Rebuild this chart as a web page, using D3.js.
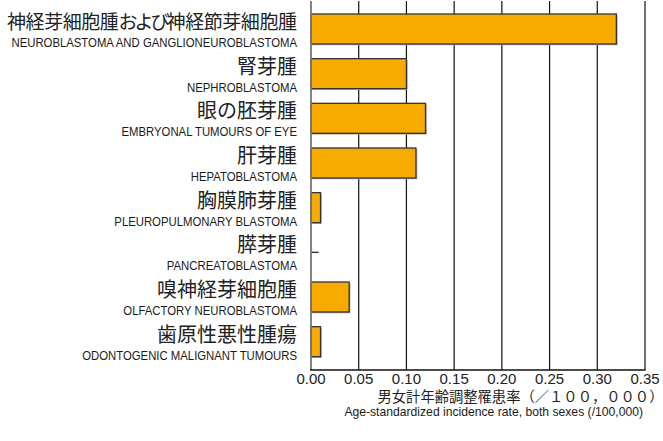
<!DOCTYPE html>
<html><head><meta charset="utf-8">
<script src="https://cdn.jsdelivr.net/npm/d3@7"></script>
<style>
html,body{margin:0;padding:0;background:#fff;}
.jp{font-family:"Noto Sans CJK JP","Noto Sans CJK SC",sans-serif;}
.en{font-family:"Liberation Sans",Arial,sans-serif;}
.num{font-family:"Liberation Sans",Arial,sans-serif;}
</style></head>
<body>
<svg id="chart" width="663" height="441"></svg>
<script>
const labelsJa = ["神経芽細胞腫および神経節芽細胞腫","腎芽腫","眼の胚芽腫","肝芽腫","胸膜肺芽腫","膵芽腫","嗅神経芽細胞腫","歯原性悪性腫瘍"];
const labelsEn = ["NEUROBLASTOMA AND GANGLIONEUROBLASTOMA","NEPHROBLASTOMA","EMBRYONAL TUMOURS OF EYE","HEPATOBLASTOMA","PLEUROPULMONARY BLASTOMA","PANCREATOBLASTOMA","OLFACTORY NEUROBLASTOMA","ODONTOGENIC MALIGNANT TUMOURS"];
const values = [0.32, 0.10, 0.12, 0.11, 0.01, 0.008, 0.04, 0.01];
const tickValues = [0, 0.05, 0.10, 0.15, 0.20, 0.25, 0.30, 0.35];
const xTitleJa = "男女計年齢調整罹患率（／１００，０００）";
const xTitleEn = "Age-standardized incidence rate, both sexes (/100,000)";

const svg = d3.select("#chart");
const x = d3.scaleLinear().domain([0, 0.35]).range([311, 645]);
const y = d3.scaleBand().domain(labelsJa).range([6.67, 364]).paddingInner(0.328).paddingOuter(0.164);
const plotTop = 1, plotBottom = 370;

function narrow(sel, k) {
  sel.each(function() {
    const w = this.getComputedTextLength();
    d3.select(this).attr("textLength", w * k).attr("lengthAdjust", "spacingAndGlyphs");
  });
}

// gridlines
svg.append("g").selectAll("line").data(tickValues.slice(1)).join("line")
  .attr("x1", d => x(d)).attr("x2", d => x(d)).attr("y1", plotTop).attr("y2", plotBottom)
  .attr("stroke", "#111").attr("stroke-width", 1.2);

// bars
const rows = labelsJa.map((ja, i) => ({ja, en: labelsEn[i], v: values[i]}));
const gb = svg.append("g");
rows.forEach(r => {
  const y0 = y(r.ja), h = y.bandwidth();
  if (r.v < 0.009) {
    gb.append("line").attr("x1", x(0)).attr("x2", x(r.v)).attr("y1", y0 + h/2).attr("y2", y0 + h/2)
      .attr("stroke", "#333").attr("stroke-width", 1.4);
  } else {
    gb.append("rect").attr("x", x(0) + 1.3).attr("y", y0 + 1.3).attr("width", x(r.v) - x(0)).attr("height", h)
      .attr("fill", "#b5b5b5");
    gb.append("rect").attr("x", x(0)).attr("y", y0).attr("width", x(r.v) - x(0)).attr("height", h)
      .attr("fill", "#F7AA00").attr("stroke", "#333").attr("stroke-width", 1.3);
  }
});

// axes lines
svg.append("line").attr("x1", x(0)).attr("x2", x(0)).attr("y1", plotTop).attr("y2", plotBottom)
  .attr("stroke", "#777").attr("stroke-width", 1.8);
svg.append("line").attr("x1", x(0) - 0.9).attr("x2", x(0.35) + 0.6).attr("y1", plotBottom).attr("y2", plotBottom)
  .attr("stroke", "#111").attr("stroke-width", 1.3);

// tick labels
svg.append("g").selectAll("text").data(tickValues).join("text")
  .attr("class", "num").attr("x", d => x(d)).attr("y", 384).attr("text-anchor", "middle")
  .attr("font-size", 15).attr("fill", "#222").text(d => d3.format(".2f")(d));

// category labels
const gl = svg.append("g");
rows.forEach((r, i) => {
  const c = y(r.ja) + y.bandwidth()/2;
  const m = r.ja.match(/^(.*?)(および)(.*)$/);
  const t = gl.append("text").attr("class", "jp").attr("x", 297).attr("y", c)
    .attr("text-anchor", "end").attr("font-size", m ? 19 : 20).attr("fill", "#222");
  if (m) {
    t.append("tspan").text(m[1]);
    t.append("tspan").attr("letter-spacing", -2.5).text(m[2]);
    t.append("tspan").text(m[3]);
    t.attr("textLength", 290).attr("lengthAdjust", "spacing");
  } else t.text(r.ja);
  gl.append("text").attr("class", "en").attr("x", 297).attr("y", c + 18)
    .attr("text-anchor", "end").attr("font-size", 12.6).attr("fill", "#1a1a1a").text(r.en)
    .call(narrow, 0.9);
});

// axis titles
svg.append("text").attr("class", "jp").attr("x", 377.5).attr("y", 402).attr("text-anchor", "start")
  .attr("font-size", 14.3).attr("fill", "#222").text(xTitleJa);
svg.append("text").attr("class", "en").attr("x", 643).attr("y", 415.5).attr("text-anchor", "end")
  .attr("font-size", 12.6).attr("fill", "#1a1a1a").text(xTitleEn).call(narrow, 0.965);
</script>
</body></html>
